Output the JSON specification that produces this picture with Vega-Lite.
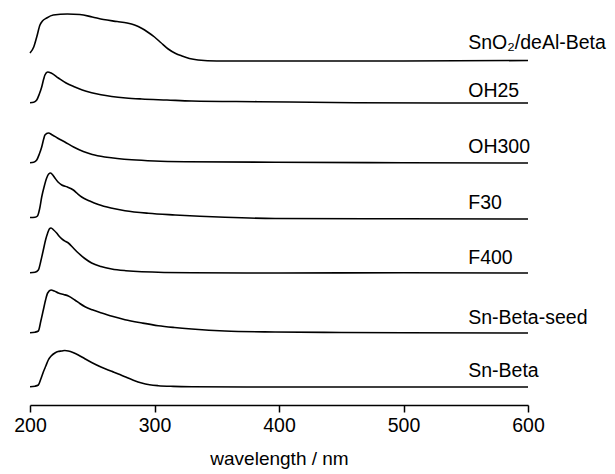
{
  "$schema": "https://vega.github.io/schema/vega-lite/v6.json",
  "width": 498,
  "height": 400,
  "autosize": {"type": "none"},
  "padding": {"left": 30, "top": 5, "right": 87, "bottom": 69},
  "config": {"view": {"stroke": null}, "font": "Liberation Sans", "background": "white"},
  "layer": [
    {
      "data": {"values": [
        {"s":"SnO2","w":200,"a":352},{"s":"SnO2","w":203,"a":358},{"s":"SnO2","w":205.4,"a":368},{"s":"SnO2","w":208,"a":380},{"s":"SnO2","w":210,"a":384},{"s":"SnO2","w":213.4,"a":387},{"s":"SnO2","w":218.7,"a":390},{"s":"SnO2","w":230,"a":391},{"s":"SnO2","w":240,"a":390.5},{"s":"SnO2","w":250,"a":388},{"s":"SnO2","w":259,"a":385.5},{"s":"SnO2","w":270,"a":383.5},{"s":"SnO2","w":278,"a":382},{"s":"SnO2","w":284,"a":380},{"s":"SnO2","w":290,"a":376.5},{"s":"SnO2","w":295,"a":372.5},{"s":"SnO2","w":300,"a":368},{"s":"SnO2","w":305,"a":362.5},{"s":"SnO2","w":311,"a":356},{"s":"SnO2","w":317,"a":351.5},{"s":"SnO2","w":322,"a":349},{"s":"SnO2","w":328,"a":346.5},{"s":"SnO2","w":335,"a":345},{"s":"SnO2","w":350,"a":344},{"s":"SnO2","w":400,"a":344},{"s":"SnO2","w":500,"a":344},{"s":"SnO2","w":600,"a":344.5},
        {"s":"OH25","w":200,"a":302.3},{"s":"OH25","w":203,"a":302.8},{"s":"OH25","w":205.4,"a":305},{"s":"OH25","w":207.5,"a":311},{"s":"OH25","w":209.4,"a":318},{"s":"OH25","w":211,"a":326},{"s":"OH25","w":212,"a":330},{"s":"OH25","w":214.2,"a":333},{"s":"OH25","w":217,"a":332},{"s":"OH25","w":222.8,"a":327},{"s":"OH25","w":229,"a":322},{"s":"OH25","w":236,"a":318},{"s":"OH25","w":242,"a":315},{"s":"OH25","w":249.5,"a":312.3},{"s":"OH25","w":257,"a":310.2},{"s":"OH25","w":265.6,"a":308.5},{"s":"OH25","w":277,"a":307},{"s":"OH25","w":289.7,"a":306},{"s":"OH25","w":310,"a":305},{"s":"OH25","w":329.9,"a":304},{"s":"OH25","w":383,"a":303.3},{"s":"OH25","w":461,"a":302.3},{"s":"OH25","w":530,"a":302},{"s":"OH25","w":600,"a":302},
        {"s":"OH300","w":200,"a":242.3},{"s":"OH300","w":203,"a":242.8},{"s":"OH300","w":205.4,"a":245},{"s":"OH300","w":207.5,"a":251},{"s":"OH300","w":209.4,"a":258},{"s":"OH300","w":211,"a":266},{"s":"OH300","w":212,"a":270},{"s":"OH300","w":214.7,"a":272},{"s":"OH300","w":218,"a":270},{"s":"OH300","w":222,"a":267},{"s":"OH300","w":228,"a":263},{"s":"OH300","w":235,"a":258},{"s":"OH300","w":242.8,"a":253.5},{"s":"OH300","w":250,"a":250.5},{"s":"OH300","w":260,"a":248},{"s":"OH300","w":270,"a":246.5},{"s":"OH300","w":281.7,"a":245.2},{"s":"OH300","w":300,"a":244},{"s":"OH300","w":324.5,"a":243.3},{"s":"OH300","w":396.8,"a":242.7},{"s":"OH300","w":500,"a":242.3},{"s":"OH300","w":600,"a":242},
        {"s":"F30","w":200,"a":187.5},{"s":"F30","w":204,"a":187.8},{"s":"F30","w":206,"a":189},{"s":"F30","w":207.7,"a":196},{"s":"F30","w":209.4,"a":208},{"s":"F30","w":211.5,"a":219},{"s":"F30","w":213.4,"a":227},{"s":"F30","w":215,"a":231},{"s":"F30","w":216.6,"a":232},{"s":"F30","w":218.3,"a":230},{"s":"F30","w":220,"a":227},{"s":"F30","w":222.5,"a":223},{"s":"F30","w":225.5,"a":220},{"s":"F30","w":230,"a":218},{"s":"F30","w":234.8,"a":215},{"s":"F30","w":238,"a":211.5},{"s":"F30","w":241.5,"a":208},{"s":"F30","w":248,"a":204},{"s":"F30","w":254.9,"a":200.5},{"s":"F30","w":265,"a":197},{"s":"F30","w":276.3,"a":194.3},{"s":"F30","w":295,"a":191.7},{"s":"F30","w":316.5,"a":190},{"s":"F30","w":356.6,"a":187.7},{"s":"F30","w":396.8,"a":186.5},{"s":"F30","w":500,"a":186.2},{"s":"F30","w":600,"a":186},
        {"s":"F400","w":200,"a":132.3},{"s":"F400","w":204,"a":132.8},{"s":"F400","w":206.7,"a":135},{"s":"F400","w":208.7,"a":144},{"s":"F400","w":210.7,"a":155},{"s":"F400","w":212.5,"a":165},{"s":"F400","w":214.2,"a":172},{"s":"F400","w":215.5,"a":176},{"s":"F400","w":216.9,"a":177},{"s":"F400","w":219,"a":175},{"s":"F400","w":221.4,"a":172},{"s":"F400","w":224,"a":168},{"s":"F400","w":226.7,"a":165},{"s":"F400","w":228.7,"a":163.5},{"s":"F400","w":230.8,"a":162},{"s":"F400","w":234.8,"a":157},{"s":"F400","w":238.8,"a":152},{"s":"F400","w":244,"a":146.5},{"s":"F400","w":249.5,"a":142},{"s":"F400","w":257,"a":138.5},{"s":"F400","w":265.6,"a":136},{"s":"F400","w":277,"a":134.3},{"s":"F400","w":289.7,"a":133.3},{"s":"F400","w":329.9,"a":132.3},{"s":"F400","w":400,"a":132},{"s":"F400","w":500,"a":132.3},{"s":"F400","w":600,"a":132},
        {"s":"Seed","w":200,"a":72.3},{"s":"Seed","w":204,"a":72.8},{"s":"Seed","w":206.7,"a":74},{"s":"Seed","w":208.7,"a":84},{"s":"Seed","w":210.7,"a":95},{"s":"Seed","w":212.5,"a":105},{"s":"Seed","w":214.2,"a":112},{"s":"Seed","w":216.9,"a":115},{"s":"Seed","w":219.5,"a":114},{"s":"Seed","w":222.8,"a":112},{"s":"Seed","w":227,"a":110.5},{"s":"Seed","w":230.8,"a":109},{"s":"Seed","w":236,"a":105},{"s":"Seed","w":240,"a":101.5},{"s":"Seed","w":244.2,"a":98.3},{"s":"Seed","w":250,"a":95.2},{"s":"Seed","w":257.6,"a":92},{"s":"Seed","w":266,"a":88.7},{"s":"Seed","w":276.3,"a":85.3},{"s":"Seed","w":290,"a":82},{"s":"Seed","w":303,"a":79.3},{"s":"Seed","w":316,"a":77.5},{"s":"Seed","w":329.9,"a":76},{"s":"Seed","w":356.6,"a":74},{"s":"Seed","w":396.8,"a":73},{"s":"Seed","w":450,"a":72.5},{"s":"Seed","w":500,"a":72.2},{"s":"Seed","w":600,"a":72},
        {"s":"SnBeta","w":200,"a":18.3},{"s":"SnBeta","w":204,"a":18.8},{"s":"SnBeta","w":206.7,"a":20},{"s":"SnBeta","w":208.7,"a":26},{"s":"SnBeta","w":210.7,"a":33},{"s":"SnBeta","w":212.7,"a":39},{"s":"SnBeta","w":214.7,"a":45},{"s":"SnBeta","w":217,"a":49},{"s":"SnBeta","w":220,"a":52},{"s":"SnBeta","w":222.5,"a":53.5},{"s":"SnBeta","w":225.5,"a":54},{"s":"SnBeta","w":228,"a":54.5},{"s":"SnBeta","w":230.8,"a":54},{"s":"SnBeta","w":234.5,"a":52.5},{"s":"SnBeta","w":238.8,"a":50},{"s":"SnBeta","w":244,"a":46.3},{"s":"SnBeta","w":249.5,"a":42.5},{"s":"SnBeta","w":257,"a":38},{"s":"SnBeta","w":265.6,"a":33.7},{"s":"SnBeta","w":271,"a":31},{"s":"SnBeta","w":276.3,"a":28.2},{"s":"SnBeta","w":283,"a":24.8},{"s":"SnBeta","w":289.7,"a":22},{"s":"SnBeta","w":296,"a":20.3},{"s":"SnBeta","w":303,"a":19.3},{"s":"SnBeta","w":315,"a":18.6},{"s":"SnBeta","w":329.9,"a":18.3},{"s":"SnBeta","w":400,"a":18},{"s":"SnBeta","w":500,"a":18},{"s":"SnBeta","w":600,"a":18}
      ]},
      "mark": {"type": "line", "color": "black", "strokeWidth": 1.6, "interpolate": "monotone", "clip": false},
      "encoding": {
        "x": {"field": "w", "type": "quantitative", "scale": {"domain": [200, 600], "nice": false},
          "axis": {"title": "wavelength / nm", "values": [200, 300, 400, 500, 600], "grid": false,
            "domainColor": "black", "domainWidth": 1.5, "tickColor": "black", "tickWidth": 1.5, "tickSize": 7,
            "labelFontSize": 19.5, "labelColor": "black", "labelPadding": 4, "labelFlush": false, "labelFont": "Liberation Sans",
            "titleFontSize": 19, "titleFontWeight": "normal", "titleColor": "black", "titlePadding": 15, "titleFont": "Liberation Sans"}},
        "y": {"field": "a", "type": "quantitative", "scale": {"domain": [0, 400], "nice": false, "zero": false}, "axis": null},
        "detail": {"field": "s"}
      }
    },
    {
      "data": {"values": [
        {"label":"SnO₂/deAl-Beta","w":552,"a":362},
        {"label":"OH25","w":552,"a":314},
        {"label":"OH300","w":552,"a":258},
        {"label":"F30","w":552,"a":202},
        {"label":"F400","w":552,"a":147},
        {"label":"Sn-Beta-seed","w":552,"a":87},
        {"label":"Sn-Beta","w":552,"a":34}
      ]},
      "mark": {"type": "text", "align": "left", "baseline": "middle", "fontSize": 19.5, "color": "black", "font": "Liberation Sans"},
      "encoding": {
        "x": {"field": "w", "type": "quantitative"},
        "y": {"field": "a", "type": "quantitative"},
        "text": {"field": "label"}
      }
    }
  ]
}
